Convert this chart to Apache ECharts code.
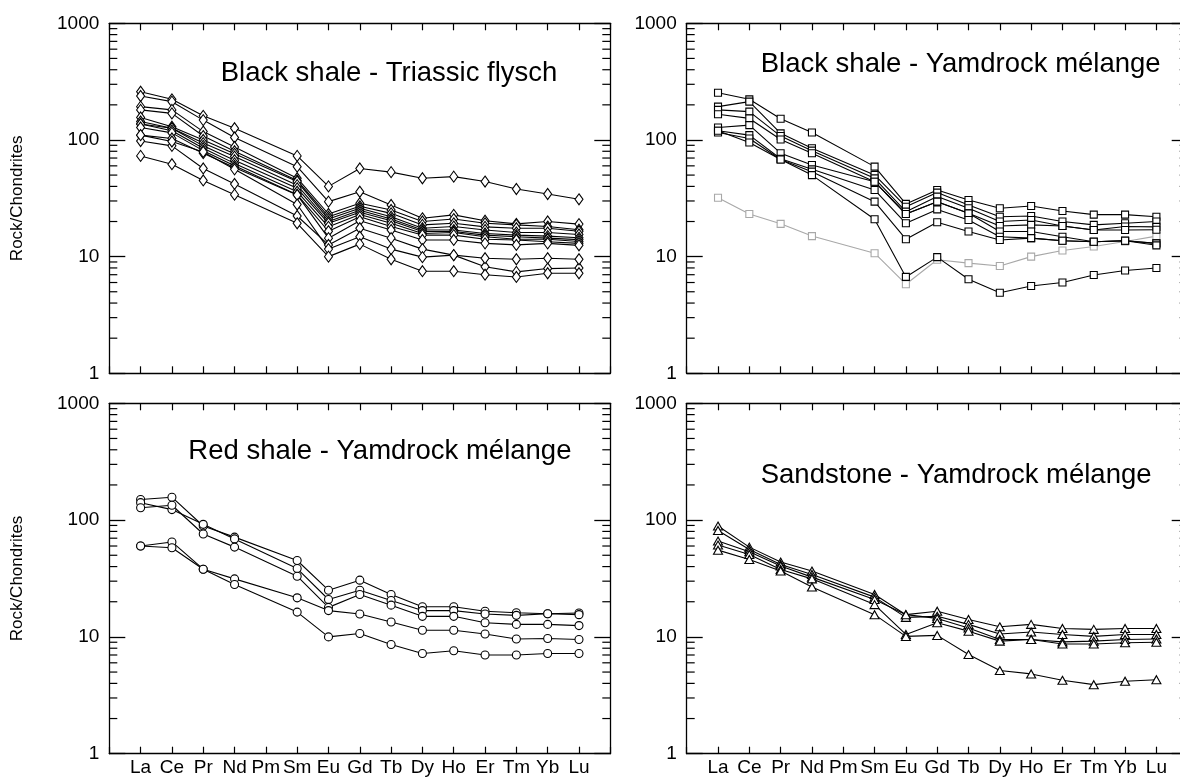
<!DOCTYPE html>
<html>
<head>
<meta charset="utf-8">
<script src="https://cdn.jsdelivr.net/npm/echarts@6/dist/echarts.min.js"></script>
<style>
html, body { margin: 0; padding: 0; overflow: hidden; background: #fff; }
#main { width: 1200px; height: 778px; }
</style>
</head>
<body>
<div id="main"></div>
<script>
// ---- Data ----
const elements = ['La','Ce','Pr','Nd','Pm','Sm','Eu','Gd','Tb','Dy','Ho','Er','Tm','Yb','Lu'];
const minorTickValues = [2,3,4,5,6,7,8,9,20,30,40,50,60,70,80,90,200,300,400,500,600,700,800,900];

// Black shale - Triassic flysch (diamonds)
const triassicFlysch = [
  [259, 223, 161, 126, null, 73, 40, 57, 53, 47, 48.5, 44, 38, 34.4, 31],
  [238, 213, 148, 105, null, 59, 29.6, 36, 27.7, 21.3, 22.8, 20.3, 19.1, 20, 19],
  [193, 181, 118, 87, null, 47, 23.2, 28.7, 25.1, 20, 21, 19.3, 18.7, 18.1, 17],
  [181, 169, 108, 80, null, 45, 22, 27, 23.5, 18.7, 19.3, 18, 17.5, 17.5, 16.5],
  [156, 130, 100, 76, null, 44, 21, 26, 22, 17.5, 18.1, 16.9, 16.1, 16.1, 15.5],
  [144, 126, 94, 72, null, 41, 20, 25, 21, 16.9, 16.9, 15.8, 15.3, 15, 14.5],
  [137, 126, 89, 67, null, 38.5, 19.3, 24, 20.3, 16.4, 16.4, 15.3, 14.8, 14.4, 14],
  [137, 120, 85, 63, null, 36, 18, 23, 19.3, 15.8, 16.1, 14.8, 14.1, 14.1, 13.5],
  [128, 115, 81, 60, null, 34, 16.5, 22, 18.1, 15.3, 15.3, 14.1, 13.9, 13.4, 13],
  [110, 103, 77, 58, null, 33.8, 14.4, 20.3, 16.9, 13.9, 13.9, 13, 12.6, 13, 12.5],
  [98, 89, 57, 42, null, 22.3, 12.6, 17.5, 14.4, 11.6, 10.3, 8.2, 7.4, 7.9, 8],
  [110, 97, 79, 56, null, 28, 11.6, 14.8, 11.6, 9.9, 10.3, 9.7, 9.5, 9.7, 9.5],
  [73, 62, 45, 34, null, 19.3, 10, 12.8, 9.5, 7.5, 7.5, 7, 6.7, 7.2, 7.2]
];

// Black shale - Yamdrock melange (squares)
const yamdrockBlack = [
  [254, 223, 152, 116, null, 59.1, 28.3, 37.3, 30.6, 26, 27.2, 24.6, 22.9, 22.9, 22],
  [193, 213, 114, 85, null, 50.1, 26.8, 35.4, 27.7, 22, 22.3, 20, 18.7, 19.3, 20],
  [181, 175, 108, 81, null, 46.9, 24.3, 32.7, 26, 20, 20.6, 18.3, 16.9, 18.1, 18],
  [166, 153, 101, 77, null, 43.9, 23.2, 29.6, 23.5, 18.3, 18.7, 18.3, 16.9, 16.9, 17],
  [128, 134, 77, 61, null, 43.9, 23.2, 29.6, 23.5, 16.4, 16.4, 14.8, 13.4, 13.7, 13],
  [120, 110, 69, 56, null, 37.3, 19.3, 25.4, 20.6, 14.8, 14.4, 13.7, 13.4, 13.7, 13],
  [116, 103, 68, 53.5, null, 29.6, 14.1, 19.7, 16.4, 13.9, 14.4, 13.7, 13.4, 13.7, 12.5],
  [120, 95, 68, 50, null, 20.9, 6.7, 9.9, 6.4, 4.9, 5.6, 6.0, 6.95, 7.6, 8]
];
const yamdrockBlackGrey = [32, 23.2, 19.1, 15.0, null, 10.7, 5.8, 9.4, 8.8, 8.3, 10, 11.3, 12.2, 13.5, 15];

// Red shale - Yamdrock melange (circles)
const redShale = [
  [150, 157, 89, 71.5, null, 45.1, 25.1, 30.6, 23.1, 18.1, 18.1, 16.6, 16.1, 15.8, 16],
  [141, 123, 92, 69, null, 38.5, 20.9, 25.1, 20.5, 16.8, 16.8, 15.7, 15.3, 15.8, 15.5],
  [127.5, 134, 76, 58.7, null, 33.1, 17.9, 23.1, 18.7, 15.0, 15.0, 13.2, 12.8, 12.8, 12.5],
  [60, 65, 38, 31.4, null, 21.6, 16.8, 15.7, 13.4, 11.4, 11.4, 10.6, 9.6, 9.7, 9.5],
  [60, 58, 38, 28.1, null, 16.3, 10, 10.7, 8.6, 7.2, 7.6, 7.0, 7.0, 7.2, 7.2]
];

// Sandstone - Yamdrock melange (triangles)
const sandstone = [
  [88.9, 58.7, 43.7, 36.6, null, 23.1, 15.5, 16.6, 14.1, 12.2, 12.8, 11.8, 11.6, 11.8, 11.8],
  [81.5, 56.1, 41.7, 34.2, null, 21.9, 14.7, 15, 12.8, 10.6, 11.0, 10.5, 10.1, 10.5, 10.5],
  [66.1, 53.5, 40.4, 32.5, null, 20.9, 15.5, 14.4, 11.9, 9.5, 9.5, 9.06, 9.2, 9.5, 9.6],
  [61.1, 50.8, 37.8, 31.4, null, 18.9, 10.5, 13.2, 11.2, 9.2, 9.5, 8.7, 8.7, 8.9, 9.0],
  [55.3, 46, 36.6, 26.8, null, 15.5, 10.1, 10.3, 7.06, 5.15, 4.82, 4.25, 3.9, 4.17, 4.3]
];

const titles = [
  'Black shale - Triassic flysch',
  'Black shale - Yamdrock mélange',
  'Red shale - Yamdrock mélange',
  'Sandstone - Yamdrock mélange'
];
const yName = 'Rock/Chondrites';

// ---- Layout / style ----
const FONT = '"Liberation Sans", Arial, Helvetica, sans-serif';
const grids = [
  { left: 109.3, top: 23.3, width: 501, height: 350 },
  { left: 686.7, top: 23.3, width: 501, height: 350 },
  { left: 109.3, top: 403.3, width: 501, height: 350.4 },
  { left: 686.7, top: 403.3, width: 501, height: 350.4 }
];
// [x of text start, y of text middle]
const titlePos = [
  [220.7, 73.0], [760.7, 64.0], [188.3, 451.8], [760.7, 475.6]
];

function toPoints(arr) {
  const out = [];
  arr.forEach((v, i) => { if (v !== null) out.push([i + 1, v]); });
  return out;
}

const xAxes = [], yAxes = [], series = [];
grids.forEach((g, gi) => {
  const isBottom = gi >= 2;
  const isLeft = gi % 2 === 0;
  const lineStyle = { color: '#000', width: 1.3 };
  const xBase = {
    type: 'value', gridIndex: gi, min: 0, max: 16, interval: 1,
    axisLine: { show: true, onZero: false, lineStyle },
    axisTick: { show: true, inside: true, length: 7, lineStyle: { color: '#000', width: 1.2 } },
    splitLine: { show: false }
  };
  xAxes.push(Object.assign({}, xBase, {
    position: 'bottom',
    axisLabel: {
      show: isBottom, margin: 5, fontSize: 19, color: '#000', fontFamily: FONT,
      formatter: v => (v >= 1 && v <= 15 ? elements[v - 1] : '')
    }
  }));
  xAxes.push(Object.assign({}, xBase, { position: 'top', axisLabel: { show: false } }));
  const yBase = {
    type: 'log', logBase: 10, gridIndex: gi, min: 1, max: 1000,
    axisLine: { show: true, onZero: false, lineStyle },
    axisTick: { show: true, inside: true, length: 16, lineStyle: { color: '#000', width: 1.3 } },
    splitLine: { show: false }
  };
  yAxes.push(Object.assign({}, yBase, {
    position: 'left',
    axisLabel: {
      show: true, margin: 10, fontSize: 19, color: '#000', fontFamily: FONT,
      formatter: v => String(Math.round(v))
    },
    name: isLeft ? yName : '',
    nameLocation: 'middle', nameGap: 83,
    nameTextStyle: { fontSize: 17, color: '#000', fontFamily: FONT }
  }));
  yAxes.push(Object.assign({}, yBase, { position: 'right', axisLabel: { show: false } }));
});

function addSeries(gi, data, symbol, size, color) {
  series.push({
    type: 'line', xAxisIndex: gi * 2, yAxisIndex: gi * 2,
    data: toPoints(data), connectNulls: true,
    symbol, symbolSize: size, showSymbol: true,
    lineStyle: { color, width: 1.1 },
    itemStyle: { color: '#fff', borderColor: color, borderWidth: 1.1 },
    emphasis: { disabled: true }, animation: false, z: 3
  });
}
triassicFlysch.forEach(s => addSeries(0, s, 'diamond', [8, 11], '#000'));
addSeries(1, yamdrockBlackGrey, 'rect', 7, '#a8a8a8');
yamdrockBlack.forEach(s => addSeries(1, s, 'rect', 7, '#000'));
redShale.forEach(s => addSeries(2, s, 'circle', 8, '#000'));
sandstone.forEach(s => addSeries(3, s, 'triangle', [9, 8], '#000'));

// minor log ticks (2..9 per decade) on left and right frame of each panel
grids.forEach((g, gi) => {
  series.push({
    type: 'custom', xAxisIndex: gi * 2, yAxisIndex: gi * 2,
    data: minorTickValues.map(v => [0, v]),
    encode: { x: 0, y: 1 },
    silent: true, animation: false, clip: false, z: 2,
    renderItem: (params, api) => {
      const v = api.value(1);
      const pL = api.coord([0, v]);
      const pR = api.coord([16, v]);
      return {
        type: 'group',
        children: [
          { type: 'line', shape: { x1: pL[0], y1: pL[1], x2: pL[0] + 8, y2: pL[1] }, style: { stroke: '#000', lineWidth: 1.2 } },
          { type: 'line', shape: { x1: pR[0], y1: pR[1], x2: pR[0] - 8, y2: pR[1] }, style: { stroke: '#000', lineWidth: 1.2 } }
        ]
      };
    }
  });
});

const graphics = titles.map((t, i) => ({
  type: 'text', x: titlePos[i][0], y: titlePos[i][1], silent: true,
  style: { text: t, fontSize: 27.5, fontFamily: FONT, fill: '#000', align: 'left', verticalAlign: 'middle' }
}));

const chart = echarts.init(document.getElementById('main'), null, { renderer: 'canvas' });
chart.setOption({
  animation: false,
  backgroundColor: '#fff',
  grid: grids.map(g => Object.assign({ containLabel: false }, g)),
  xAxis: xAxes,
  yAxis: yAxes,
  series,
  graphic: graphics
});
</script>
</body>
</html>
